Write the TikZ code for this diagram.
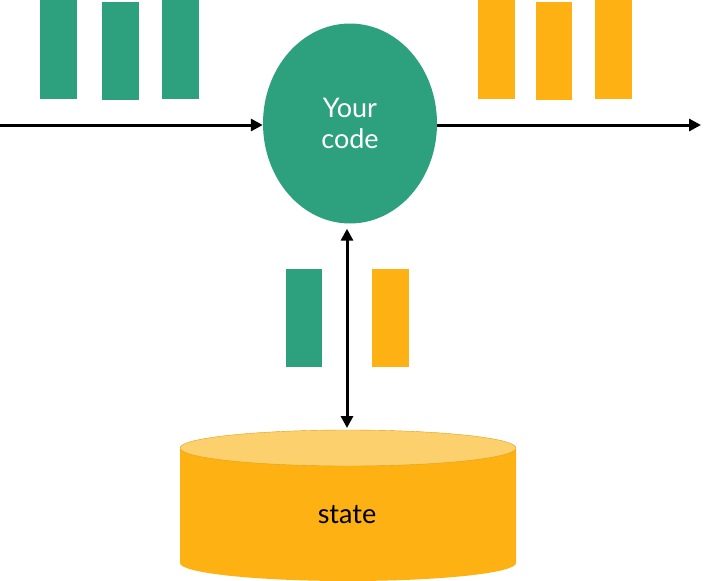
\documentclass[tikz,border=0pt]{standalone}
\usepackage{fontspec}
\setmainfont{Lato}
\usetikzlibrary{arrows.meta,shapes.geometric}
\definecolor{grn}{HTML}{2DA07D}
\definecolor{org}{HTML}{FDB113}
\definecolor{orgl}{HTML}{FDD06E}
\tikzset{
  bar/.style={inner sep=0pt, minimum width=37pt, minimum height=98pt, anchor=north west},
  gbar/.style={bar, fill=grn},
  obar/.style={bar, fill=org},
  tip/.style={Triangle[length=12pt,width=12pt]},
  conn/.style={line width=3pt, -{Triangle[length=12pt,width=12pt]}},
}
\begin{document}
\begin{tikzpicture}[x=1pt,y=-1pt]
\useasboundingbox (0,0) rectangle (713,581);
% top bars
\node[gbar, minimum height=99pt] (g1) at (40,0) {};
\node[gbar] (g2) at (102,2) {};
\node[gbar, minimum height=99pt] (g3) at (162,0) {};
\node[obar, minimum height=99pt] (o1) at (478,0) {};
\node[obar, minimum width=36pt] (o2) at (536,2) {};
\node[obar, minimum height=99pt] (o3) at (595,0) {};
% middle bars
\node[gbar, minimum width=36pt] (g4) at (286,269) {};
\node[obar] (o4) at (372,269) {};
% code ellipse
\node[ellipse, fill=grn, minimum width=174pt, minimum height=200pt, inner sep=0pt,
      text=white, font=\fontsize{27}{31}\selectfont, align=center] (code) at (350,123.5) {Your\\code};
% cylinder
\fill[org] (180,448) -- (180,563) arc[start angle=180, end angle=360, x radius=168, y radius=-18] -- (516,448) -- cycle;
\fill[orgl, draw=org!90!black, line width=0.4pt] (348,448) ellipse[x radius=168, y radius=18];
\node[font=\fontsize{27}{31}\selectfont] (state) at (347,515) {state};
\coordinate (cyltop) at (347,430);
\coordinate (inL) at (0,125);
\coordinate (outR) at (701,125);
% connectors
\draw[conn] (inL) -- (code.west |- inL);
\draw[conn] (code.east |- outR) -- (outR);
\draw[conn, {Triangle[length=12pt,width=12pt]}-{Triangle[length=12pt,width=12pt]}, shorten <=5pt, shorten >=2pt] (code.south -| cyltop) -- (cyltop);
\end{tikzpicture}
\end{document}
